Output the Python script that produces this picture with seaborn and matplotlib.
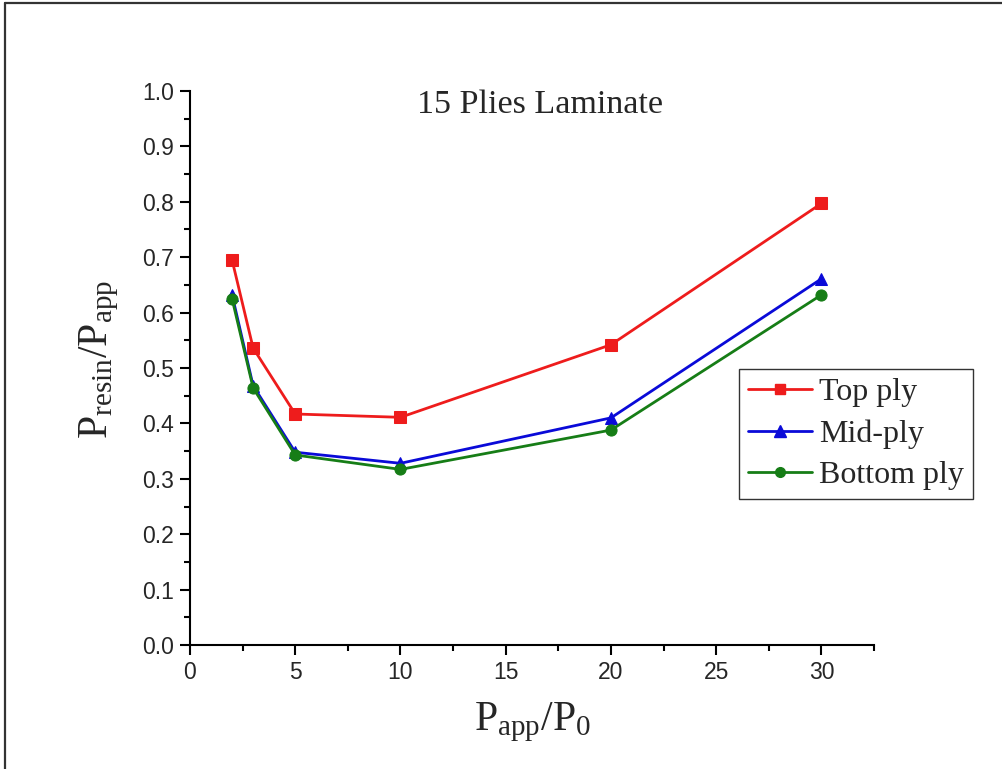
import matplotlib
matplotlib.use("Agg")
import matplotlib.pyplot as plt
from matplotlib.lines import Line2D
from matplotlib.ticker import MultipleLocator
import seaborn as sns
import pandas as pd

# Applied pressure ratio and resin pressure ratio per ply location
pressure_ratio = [2, 3, 5, 10, 20, 30]
top_ply = [0.695, 0.536, 0.417, 0.411, 0.542, 0.797]
mid_ply = [0.632, 0.468, 0.348, 0.328, 0.410, 0.661]
bottom_ply = [0.625, 0.464, 0.343, 0.317, 0.388, 0.632]
series_names = ["Top ply", "Mid-ply", "Bottom ply"]

sns.set_style("ticks")
plt.rcParams["font.family"] = ["Liberation Sans", "DejaVu Sans"]
plt.rcParams["mathtext.fontset"] = "custom"
plt.rcParams["mathtext.rm"] = "Liberation Serif"
plt.rcParams["mathtext.it"] = "Liberation Serif"

df = pd.DataFrame({
    "x": pressure_ratio * 3,
    "y": top_ply + mid_ply + bottom_ply,
    "series": [s for s in series_names for _ in pressure_ratio],
})

fig = plt.figure(figsize=(10.02, 7.69), dpi=100)
ax = fig.add_axes([0.1896, 0.1612, 0.8723 - 0.1896, 0.8817 - 0.1612])

palette = {"Top ply": "#ee1c1c", "Mid-ply": "#0a0ad8", "Bottom ply": "#167d16"}
markers = {"Top ply": "s", "Mid-ply": "^", "Bottom ply": "o"}
sizes = {"Top ply": 8, "Mid-ply": 9, "Bottom ply": 8}

for name in series_names:
    sub = df[df["series"] == name]
    sns.lineplot(data=sub, x="x", y="y", ax=ax, color=palette[name],
                 marker=markers[name], markersize=sizes[name],
                 markeredgecolor=palette[name], linewidth=2.0,
                 label=name, legend=False)

ax.set_xlim(0, 32.5)
ax.set_ylim(0, 1.0)
ax.xaxis.set_major_locator(MultipleLocator(5))
ax.xaxis.set_minor_locator(MultipleLocator(2.5))
ax.yaxis.set_minor_locator(MultipleLocator(0.05))
ax.set_yticks([i / 10 for i in range(11)])
ax.set_yticklabels([f"{i / 10:.1f}" for i in range(11)])

for side in ("top", "right"):
    ax.spines[side].set_visible(False)
for side in ("left", "bottom"):
    ax.spines[side].set_linewidth(1.5)
    ax.spines[side].set_color("black")

ax.tick_params(which="major", direction="out", length=7.5, width=1.5,
               labelsize=16.5, color="black", pad=4)
ax.tick_params(which="minor", direction="out", length=4.5, width=1.5, color="black")

ax.set_xlabel(r"$\mathrm{P_{app}/P_{0}}$", fontsize=30, labelpad=12)
ax.set_ylabel(r"$\mathrm{P_{resin}/P_{app}}$", fontsize=30)
ax.yaxis.set_label_coords(-0.101, 0.516)

ax.text(0.512, 0.976, "15 Plies Laminate", transform=ax.transAxes,
        ha="center", va="center", fontsize=24.5, family="Liberation Serif")

handles = [Line2D([], [], color=palette[n], marker=markers[n], markersize=sizes[n] - 1,
                  markeredgecolor=palette[n], linewidth=2.0) for n in series_names]
leg = fig.legend(handles, series_names, loc="upper left",
                 bbox_to_anchor=(739 / 1002, 1 - 369 / 769),
                 prop={"family": "Liberation Serif", "size": 23},
                 frameon=True, fancybox=False, edgecolor="#333333",
                 framealpha=1, handlelength=2.0, handletextpad=0.22,
                 labelspacing=0.38, borderpad=0.28, borderaxespad=0)
leg.get_frame().set_linewidth(1.0)

# Thin frame along the top and left figure edges
fig.add_artist(Line2D([0.0045, 0.0045], [0, 0.996], transform=fig.transFigure,
                      color="#333333", linewidth=1.6))
fig.add_artist(Line2D([0.0045, 1.0], [0.996, 0.996], transform=fig.transFigure,
                      color="#333333", linewidth=1.6))

fig.savefig("out.png", dpi=100)
